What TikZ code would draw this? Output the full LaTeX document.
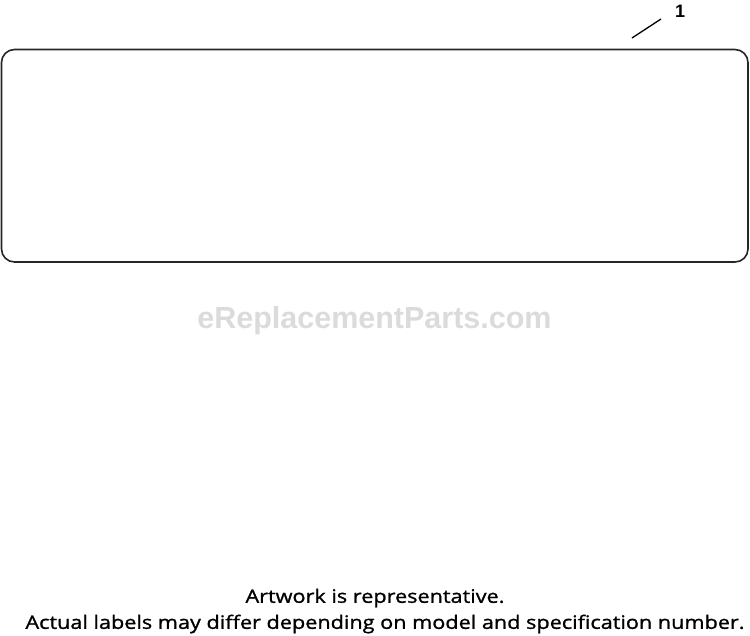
\documentclass[tikz,border=0pt]{standalone}
\usepackage{fontspec}
\setmainfont{Liberation Sans}
\newfontfamily\captionfont[FakeStretch=1.17,FakeBold=1.2]{Open Sans}
\begin{document}
\begin{tikzpicture}[x=1pt,y=-1pt,
  panel/.style={draw=black!85,line width=1.6pt,rounded corners=13pt},
  leader/.style={draw=black,line width=1.3pt},
  callout/.style={font=\bfseries\fontsize{18}{18}\selectfont,inner sep=0pt},
  wmark/.style={font=\bfseries\fontsize{30.5}{30.5}\selectfont,inner sep=0pt},
  note/.style={font=\captionfont\fontsize{18.5}{25}\selectfont,inner sep=0pt,align=center}]
\useasboundingbox (0,0) rectangle (750,636);
\draw[panel] (1.5,49.5) rectangle (748,262);
\node[callout] (n1) at (680,11.5) {1};
\coordinate (l1) at (661,19);
\coordinate (l2) at (632,38);
\draw[leader] (l1) -- (l2);
\node[wmark,text=black!14] (wm) at (374.5,321) {eReplacementParts.com};
\node[note] (cap1) at (375,598) {Artwork is representative.};
\node[note] (cap2) at (385,624) {Actual labels may differ depending on model and specification number.};
\end{tikzpicture}
\end{document}
